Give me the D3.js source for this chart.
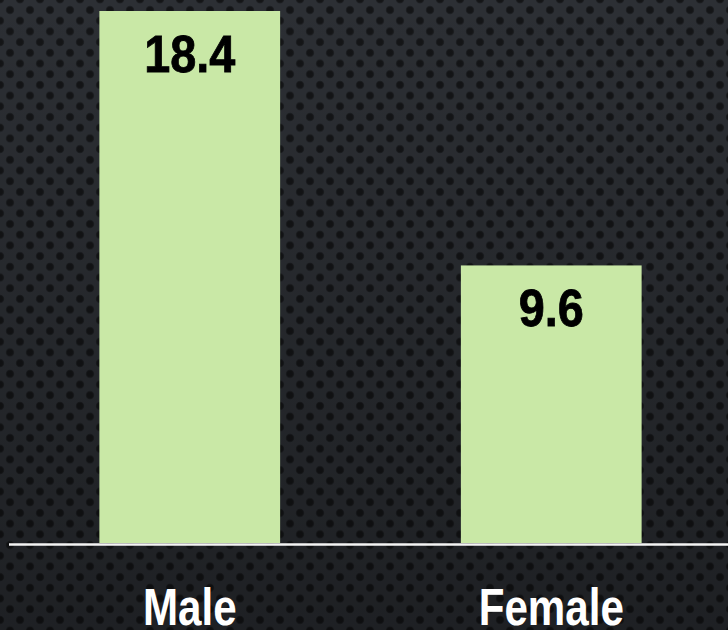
<!DOCTYPE html>
<html>
<head>
<meta charset="utf-8">
<script src="https://cdn.jsdelivr.net/npm/d3@7/dist/d3.min.js"></script>
<style>
  html, body { margin: 0; padding: 0; background: #26282c; }
  svg { display: block; }
</style>
</head>
<body>
<script>
// Chart data
const categories = ["Male", "Female"];
const values = [18.4, 9.6];

const W = 728, H = 630;
const svg = d3.select("body").append("svg")
  .attr("width", W).attr("height", H);

const defs = svg.append("defs");

// Perforated-metal backdrop: staggered rows of dark holes
const pat = defs.append("pattern")
  .attr("id", "holes")
  .attr("patternUnits", "userSpaceOnUse")
  .attr("width", 20).attr("height", 21.4)
  .attr("x", 0).attr("y", -0.7);
pat.append("rect").attr("width", 20).attr("height", 21.4).attr("fill", "#2c2f34");
[[10, 10.7], [0, 0], [20, 0], [0, 21.4], [20, 21.4]].forEach(([cx, cy]) => {
  pat.append("circle").attr("cx", cx).attr("cy", cy).attr("r", 4.2).attr("fill", "#1b1d20");
  pat.append("circle").attr("cx", cx).attr("cy", cy).attr("r", 3.1).attr("fill", "#141517");
});

const shade = defs.append("linearGradient")
  .attr("id", "shade").attr("x1", 0).attr("y1", 0).attr("x2", 0).attr("y2", 1);
shade.append("stop").attr("offset", "0%").attr("stop-color", "#000").attr("stop-opacity", 0);
shade.append("stop").attr("offset", "100%").attr("stop-color", "#000").attr("stop-opacity", 0.32);

svg.append("rect").attr("width", W).attr("height", H).attr("fill", "url(#holes)");
svg.append("rect").attr("width", W).attr("height", H).attr("fill", "url(#shade)");

// Scales
const baseY = 543;
const x = d3.scaleBand()
  .domain(categories)
  .range([9, 732])
  .paddingInner(0.5)
  .paddingOuter(0.25);

const y = d3.scaleLinear()
  .domain([0, 18.4])
  .range([baseY, 11]);

const condensedFont = "'Liberation Sans', Arial, sans-serif";

// Bars
svg.selectAll("rect.bar")
  .data(categories)
  .join("rect")
  .attr("class", "bar")
  .attr("x", d => x(d))
  .attr("width", x.bandwidth())
  .attr("y", (d, i) => y(values[i]))
  .attr("height", (d, i) => baseY - y(values[i]))
  .attr("fill", "#c9e8a6");

// Value labels inside the bars (horizontally condensed bold)
svg.selectAll("text.val")
  .data(categories)
  .join("text")
  .attr("class", "val")
  .attr("transform", (d, i) =>
    `translate(${x(d) + x.bandwidth() / 2},${y(values[i]) + 61}) scale(0.9,1)`)
  .attr("text-anchor", "middle")
  .attr("font-family", condensedFont)
  .attr("font-weight", "bold")
  .attr("font-size", 52)
  .attr("fill", "#000")
  .attr("stroke", "#000")
  .attr("stroke-width", 0.8)
  .text((d, i) => d3.format(".1f")(values[i]));

// Baseline
svg.append("line")
  .attr("x1", 9).attr("x2", W)
  .attr("y1", baseY + 1.5).attr("y2", baseY + 1.5)
  .attr("stroke", "#f4f4f4").attr("stroke-width", 2.5);

// Category axis labels
const xAxis = svg.append("g")
  .attr("transform", `translate(0,${baseY})`)
  .call(d3.axisBottom(x).tickSize(0).tickPadding(0));
xAxis.select(".domain").remove();
xAxis.selectAll(".tick text")
  .attr("dy", 0)
  .attr("x", 0)
  .attr("y", 0)
  .attr("transform", "translate(0,82) scale(0.81,1)")
  .attr("font-family", condensedFont)
  .attr("font-weight", "bold")
  .attr("font-size", 52)
  .attr("fill", "#fff");
</script>
</body>
</html>
